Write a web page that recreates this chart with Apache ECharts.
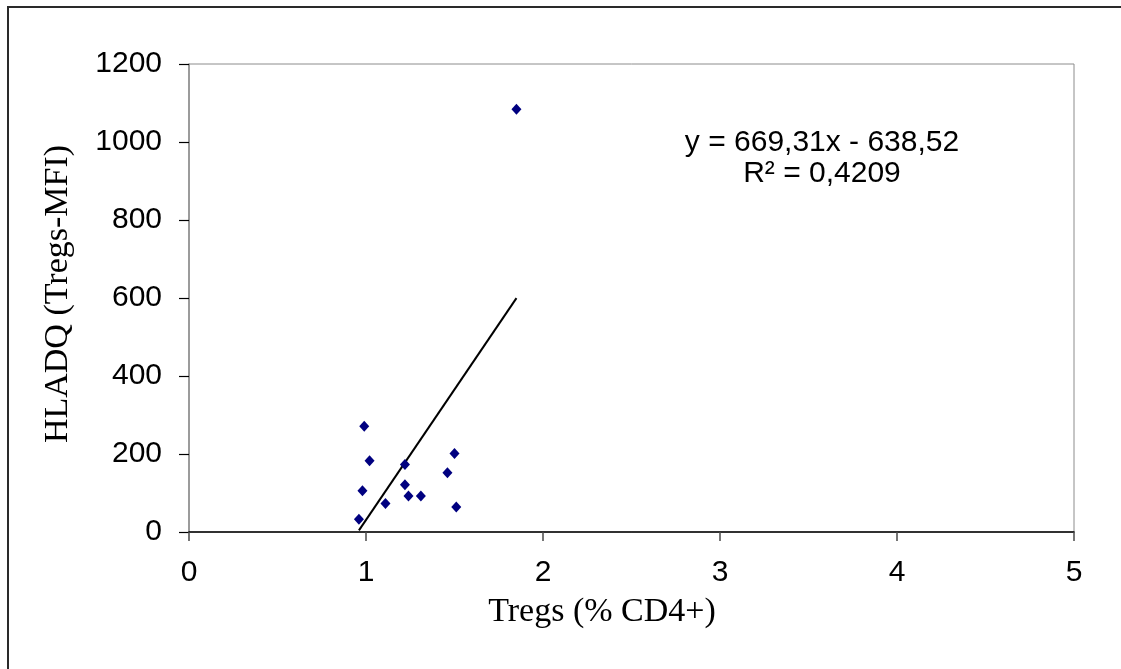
<!DOCTYPE html>
<html>
<head>
<meta charset="utf-8">
<script src="https://cdn.jsdelivr.net/npm/echarts@6/dist/echarts.min.js"></script>
<style>
  html, body { margin: 0; padding: 0; background: #ffffff; }
  #chart { width: 1121px; height: 669px; }
</style>
</head>
<body>
<div id="chart"></div>
<script>
// Tregs (% of CD4+) against HLA-DQ expression on Tregs (MFI)
const tregsPct = [0.99, 1.02, 0.98, 0.96, 1.11, 1.22, 1.22, 1.24, 1.31, 1.46, 1.50, 1.51, 1.85];
const hladqMfi = [271, 183, 106, 33, 73, 173, 121, 92, 92, 152, 201, 64, 1084];

// Linear trend line as stated in the annotation
const trendSlope = 669.31;
const trendIntercept = -638.52;
const trendR2Text = '0,4209';

const xTicks = { min: 0, max: 5, interval: 1 };
const yTicks = { min: 0, max: 1200, interval: 200 };

const points = tregsPct.map((x, i) => [x, hladqMfi[i]]);
const xLo = Math.min(...tregsPct);
const xHi = Math.max(...tregsPct);
const trend = [xLo, xHi].map(x => [x, trendSlope * x + trendIntercept]);

const fmt = v => v.toFixed(2).replace('.', ',');
const eqText = 'y = ' + fmt(trendSlope) + 'x ' + (trendIntercept < 0 ? '- ' : '+ ') +
  fmt(Math.abs(trendIntercept)) + '\nR² = ' + trendR2Text;

const sans = '"Liberation Sans", Arial, sans-serif';
const serif = '"Liberation Serif", "Times New Roman", serif';

const chart = echarts.init(document.getElementById('chart'), null, { renderer: 'canvas' });
chart.setOption({
  animation: false,
  backgroundColor: '#ffffff',
  grid: {
    left: 189, right: 47, top: 64, bottom: 137,
    show: true, borderColor: '#8c8c8c', borderWidth: 1, backgroundColor: 'transparent'
  },
  xAxis: {
    type: 'value',
    min: xTicks.min, max: xTicks.max, interval: xTicks.interval,
    axisLine: { show: true, onZero: false, lineStyle: { color: '#000000', width: 1.5 } },
    axisTick: { show: true, length: 9, lineStyle: { color: '#4a4a4a', width: 1.5 } },
    axisLabel: { color: '#000000', fontFamily: sans, fontSize: 30, margin: 26,
      formatter: v => String(v) },
    splitLine: { show: false }
  },
  yAxis: {
    type: 'value',
    min: yTicks.min, max: yTicks.max, interval: yTicks.interval,
    axisLine: { show: true, onZero: false, lineStyle: { color: '#8c8c8c', width: 1.5 } },
    axisTick: { show: true, length: 10, lineStyle: { color: '#000000', width: 1.2 } },
    axisLabel: { color: '#000000', fontFamily: sans, fontSize: 30, margin: 27,
      formatter: v => String(v) },
    splitLine: { show: false }
  },
  series: [
    {
      type: 'line',
      data: trend,
      symbol: 'none',
      lineStyle: { color: '#000000', width: 2 },
      z: 2,
      silent: true
    },
    {
      type: 'scatter',
      data: points,
      symbol: 'diamond',
      symbolSize: [10, 11],
      itemStyle: { color: '#000080', opacity: 1 },
      z: 3
    }
  ],
  graphic: [
    {
      type: 'rect',
      shape: { x: 8, y: 7, width: 1300, height: 800 },
      style: { fill: 'none', stroke: '#2a2a2a', lineWidth: 2 },
      silent: true
    },
    {
      type: 'text',
      x: 822, y: 158,
      style: {
        text: eqText,
        fill: '#000000',
        font: '30px ' + sans,
        lineHeight: 31,
        align: 'center',
        verticalAlign: 'middle'
      }
    },
    {
      type: 'text',
      x: 602, y: 612,
      style: {
        text: 'Tregs (% CD4+)',
        fill: '#000000',
        font: '34px ' + serif,
        align: 'center',
        verticalAlign: 'middle'
      }
    },
    {
      type: 'text',
      x: 58, y: 294,
      rotation: Math.PI / 2,
      style: {
        text: 'HLADQ (Tregs-MFI)',
        fill: '#000000',
        font: '34px ' + serif,
        align: 'center',
        verticalAlign: 'middle'
      }
    }
  ]
});
</script>
</body>
</html>
